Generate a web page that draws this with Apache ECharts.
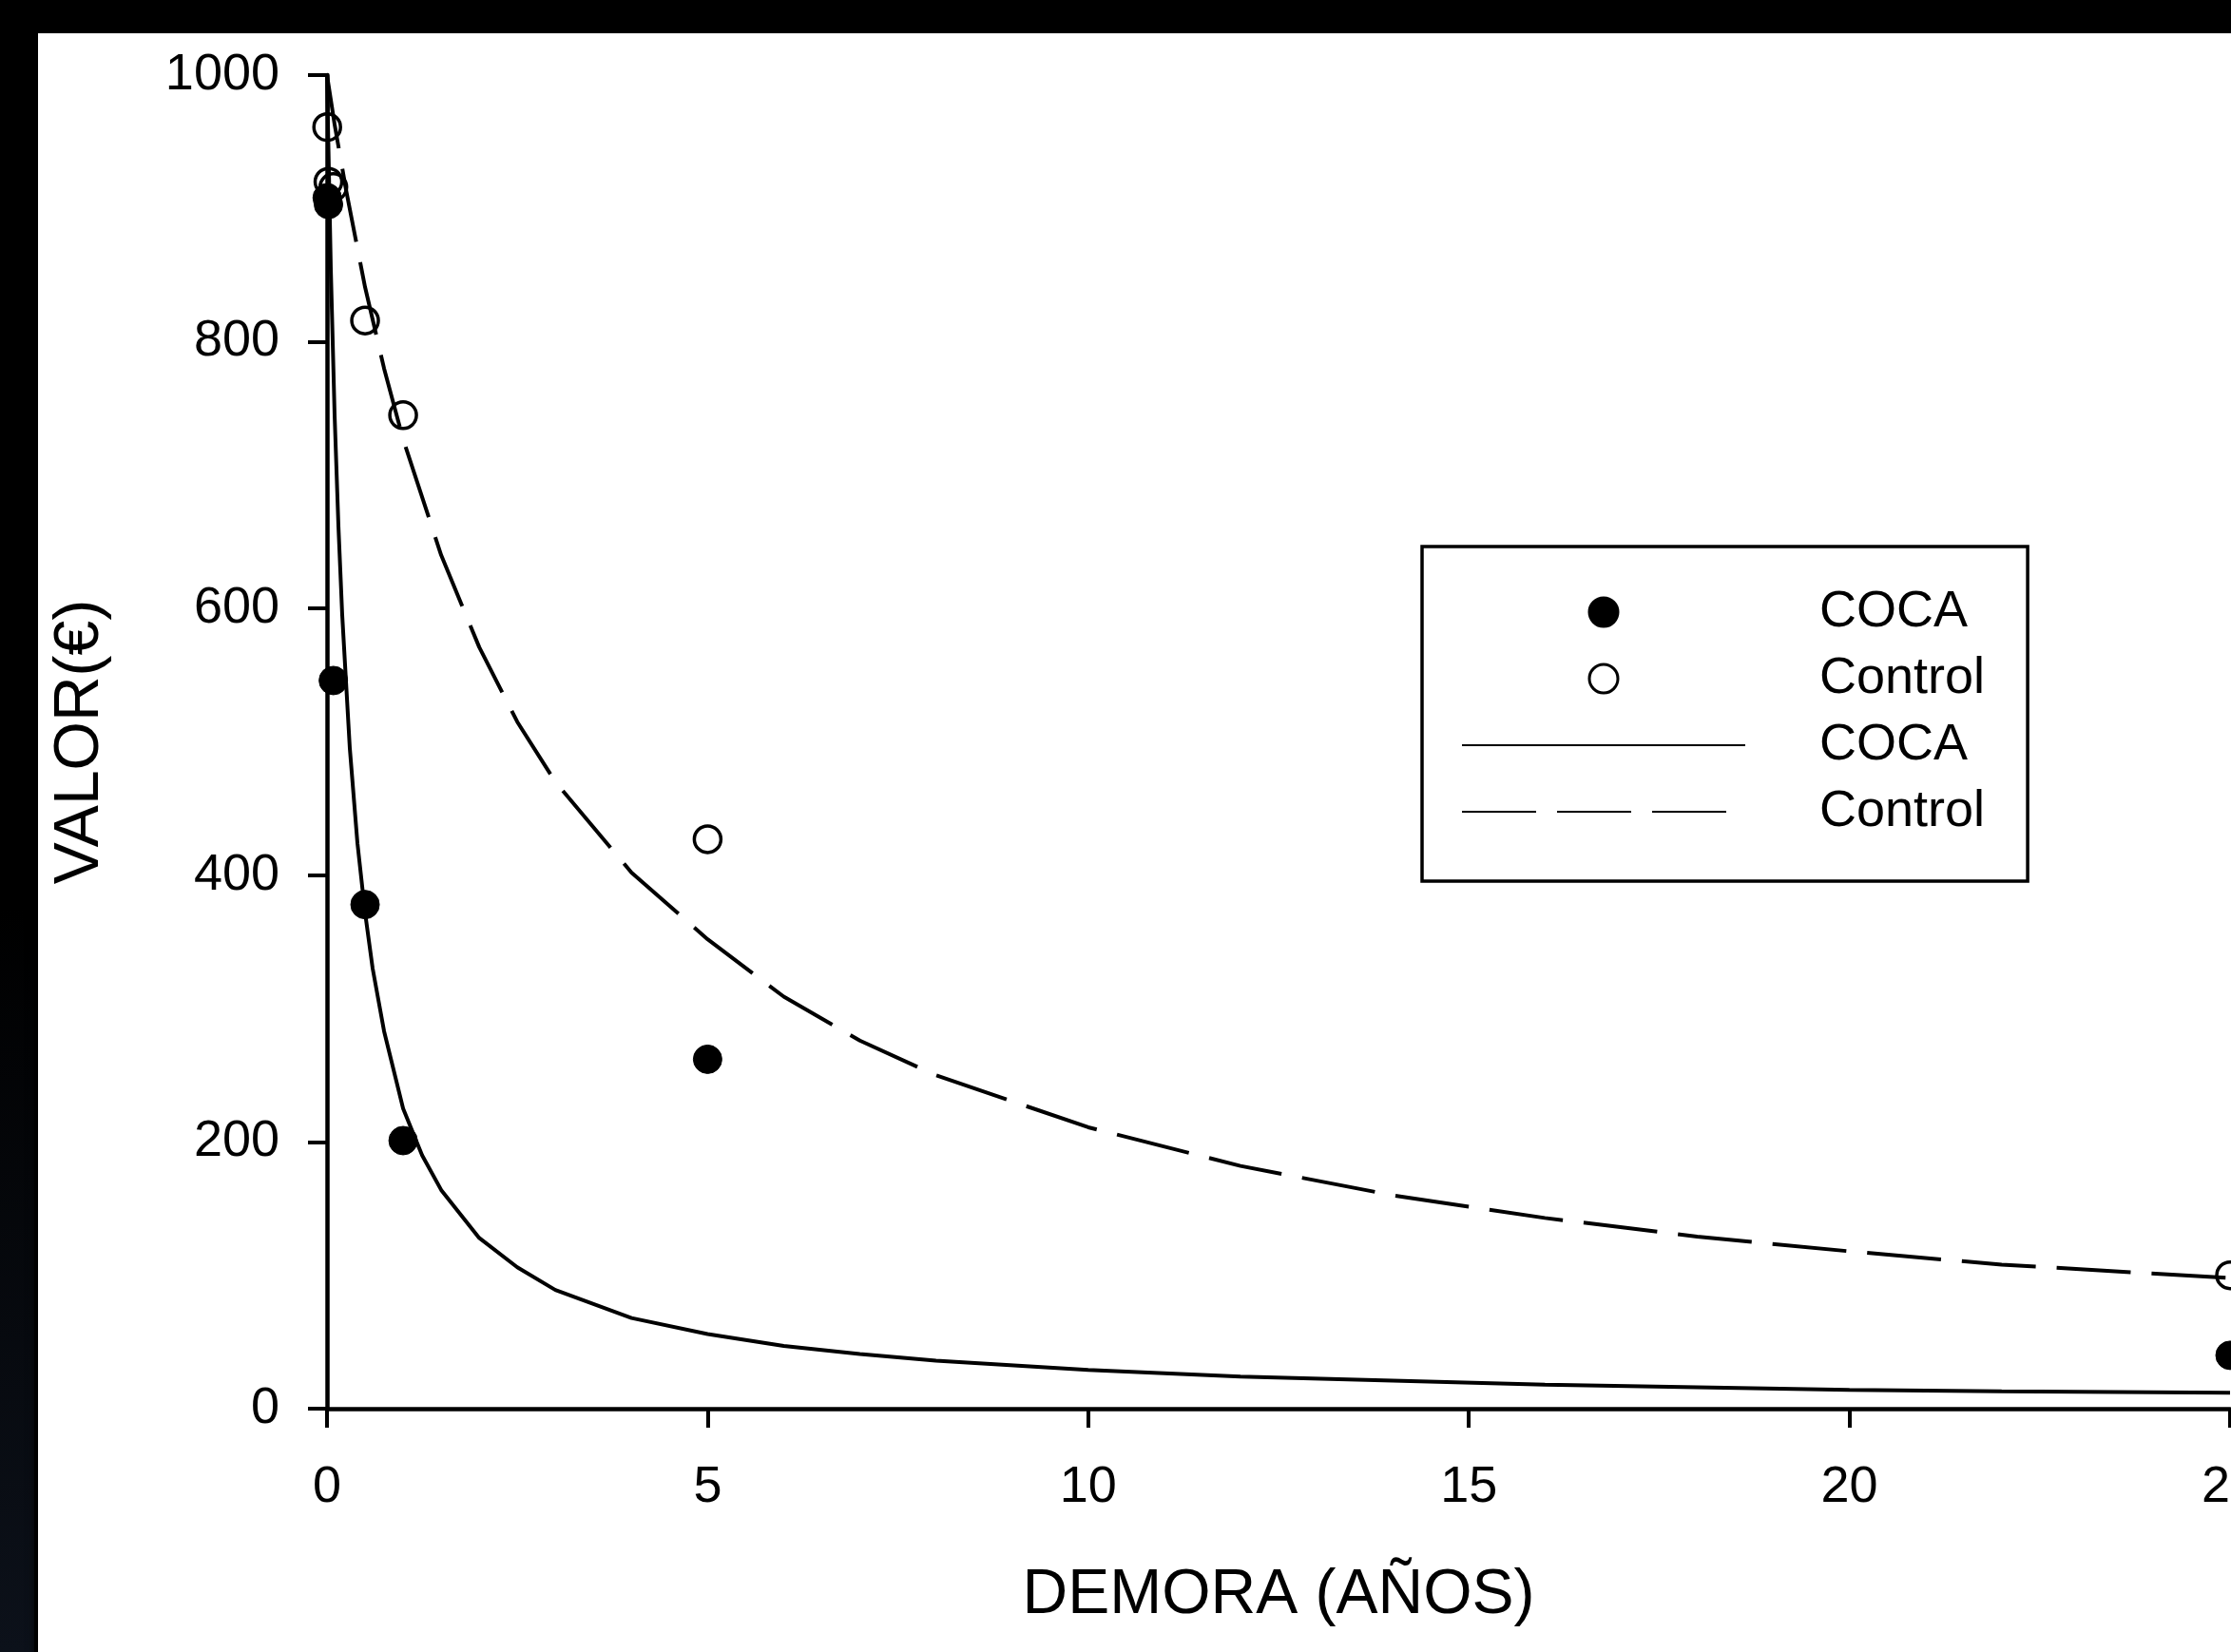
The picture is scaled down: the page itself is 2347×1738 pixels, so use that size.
<!DOCTYPE html>
<html>
<head>
<meta charset="utf-8">
<title>VALOR vs DEMORA</title>
<script src="https://cdn.jsdelivr.net/npm/echarts/dist/echarts.min.js"></script>
<style>
  html, body {
    margin: 0;
    padding: 0;
    width: 2347px;
    height: 1738px;
    overflow: hidden;
    background: #000;
  }
  /* hoja blanca con el borde negro arriba y a la izquierda */
  #paper {
    position: absolute;
    left: 40px;
    top: 35px;
    right: -20px;
    bottom: -20px;
    background: #fff;
    box-shadow: 0 0 8px 3px #000;
  }
  #leftShade {
    position: absolute;
    left: 0;
    top: 0;
    width: 36px;
    height: 1738px;
    background: linear-gradient(to bottom, #000 0%, #000 55%, #0c111a 100%);
  }
  #main {
    position: absolute;
    left: 0;
    top: 0;
    width: 2347px;
    height: 1738px;
  }
</style>
</head>
<body>
<div id="leftShade"></div>
<div id="paper"></div>
<div id="main"></div>
<script>
// demoras en años: 1 día, 1 semana, 1 mes, 6 meses, 1 año, 5 años, 25 años
const delays = [0.0027, 0.0192, 0.0833, 0.5, 1, 5, 25];
const cocaValues = [908, 903, 546, 378, 201, 262, 40];
const controlValues = [961, 920, 916, 816, 745, 427, 100];

// curvas ajustadas
const cocaFitX = [0, 0.05, 0.1, 0.15, 0.2, 0.3, 0.4, 0.5, 0.6, 0.75, 1, 1.25, 1.5, 2, 2.5, 3, 4, 5, 6, 7, 8, 10, 12, 14, 16, 18, 20, 22, 25];
const cocaFitY = [1000, 855, 745, 662, 595, 495, 424, 372, 330, 283, 225, 190, 164, 128, 106, 89, 68, 56, 47, 41, 36, 29, 24, 21, 18, 16, 14, 13, 12];
const controlFitX = [0, 0.1, 0.25, 0.5, 0.75, 1, 1.5, 2, 2.5, 3, 4, 5, 6, 7, 8, 10, 12, 14, 16, 18, 20, 22, 25];
const controlFitY = [1000, 963, 914, 841, 780, 727, 640, 571, 515, 470, 402, 352, 309, 276, 250, 211, 182, 160, 143, 129, 118, 108, 98];

const xTicks = [0, 5, 10, 15, 20, 25];
const yTicks = [0, 200, 400, 600, 800, 1000];

const FONT = "'Liberation Sans', Arial, sans-serif";

function pairs(xs, ys) {
  return xs.map((x, i) => [x, ys[i]]);
}

const myChart = echarts.init(document.getElementById('main'), null, { renderer: 'canvas' });

const axisCommon = {
  type: 'value',
  axisLine: {
    show: true,
    onZero: false,
    lineStyle: { color: '#000', width: 4.5 }
  },
  axisTick: {
    show: true,
    inside: false,
    length: 20,
    lineStyle: { color: '#000', width: 4 }
  },
  splitLine: { show: false },
  nameTextStyle: {
    color: '#000',
    fontFamily: FONT,
    fontSize: 66
  }
};

// la leyenda de las curvas solo lleva la línea, sin marcador
const noMarker = { color: 'rgba(0,0,0,0)', borderWidth: 0, opacity: 0 };

let option = {
  animation: false,
  backgroundColor: 'transparent',
  grid: {
    left: 344,
    right: 1,
    top: 79,
    bottom: 256,
    containLabel: false,
    outerBoundsMode: 'none'
  },
  legend: {
    orient: 'vertical',
    left: 1496,
    top: 575,
    padding: [41, 45, 45, 41],
    borderColor: '#000',
    borderWidth: 3.5,
    backgroundColor: '#fff',
    itemWidth: 298,
    itemHeight: 30,
    itemGap: 14,
    selectedMode: false,
    data: [
      { name: 'COCA', icon: 'circle' },
      { name: 'Control', icon: 'circle' },
      { name: 'COCA (ajuste)', itemStyle: noMarker },
      { name: 'Control (ajuste)', itemStyle: noMarker }
    ],
    formatter: function (name) {
      return name.replace(' (ajuste)', '');
    },
    itemStyle: { borderWidth: 3, opacity: 1 },
    textStyle: {
      color: '#000',
      fontFamily: FONT,
      fontSize: 54,
      lineHeight: 56,
      padding: [0, 0, 0, 73]
    }
  },
  xAxis: Object.assign({}, axisCommon, {
    min: 0,
    max: 25,
    interval: 5,
    name: 'DEMORA (AÑOS)',
    nameLocation: 'middle',
    nameGap: 164,
    axisLabel: {
      color: '#000',
      fontFamily: FONT,
      fontSize: 54,
      margin: 56,
      showMaxLabel: true,
      formatter: function (v) { return xTicks.indexOf(v) >= 0 ? String(v) : ''; }
    }
  }),
  yAxis: Object.assign({}, axisCommon, {
    min: 0,
    max: 1000,
    interval: 200,
    name: 'VALOR(€)',
    nameLocation: 'middle',
    nameGap: 226,
    axisLabel: {
      color: '#000',
      fontFamily: FONT,
      fontSize: 54,
      margin: 50,
      formatter: function (v) { return yTicks.indexOf(v) >= 0 ? String(v) : ''; }
    }
  }),
  series: [
    {
      name: 'COCA',
      type: 'scatter',
      z: 4,
      symbol: 'circle',
      symbolSize: 30,
      itemStyle: { color: '#000', borderColor: '#000', borderWidth: 1, opacity: 1 },
      emphasis: { disabled: true },
      data: pairs(delays, cocaValues)
    },
    {
      name: 'Control',
      type: 'scatter',
      z: 4,
      symbol: 'circle',
      symbolSize: 28,
      itemStyle: { color: 'rgba(255,255,255,0)', borderColor: '#000', borderWidth: 3.5, opacity: 1 },
      emphasis: { disabled: true },
      data: pairs(delays, controlValues)
    },
    {
      name: 'COCA (ajuste)',
      type: 'line',
      z: 3,
      symbol: 'none',
      smooth: false,
      itemStyle: { color: '#000' },
      lineStyle: { color: '#000', width: 4, type: 'solid' },
      data: pairs(cocaFitX, cocaFitY)
    },
    {
      name: 'Control (ajuste)',
      type: 'line',
      z: 3,
      symbol: 'none',
      smooth: false,
      itemStyle: { color: '#000' },
      lineStyle: { color: '#000', width: 4, type: [78, 22] },
      data: pairs(controlFitX, controlFitY)
    }
  ]
};

myChart.setOption(option);
</script>
</body>
</html>
